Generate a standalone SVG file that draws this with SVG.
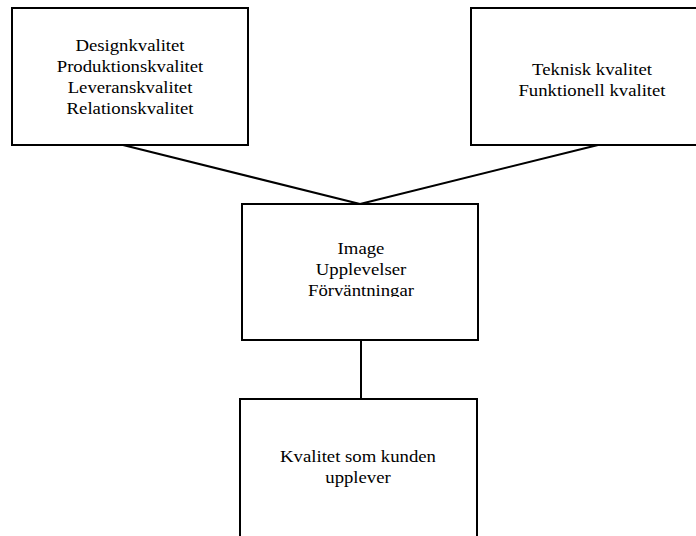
<svg xmlns="http://www.w3.org/2000/svg" width="696" height="536" viewBox="0 0 696 536">
  <style>
    .box { fill: #ffffff; stroke: #000000; stroke-width: 2; }
    .link { stroke: #000000; stroke-width: 2; fill: none; }
    text { font-family: "Liberation Serif", "Times New Roman", serif; font-size: 17.5px; fill: #000000; text-anchor: middle; }
  </style>
  <defs>
    <!-- the last line of the middle box is cut off just below its baseline -->
    <clipPath id="middle-clip">
      <rect x="242" y="204" width="236" height="93"/>
    </clipPath>
  </defs>
  <rect width="696" height="536" fill="#ffffff"/>

  <g id="connectors">
    <line class="link" x1="123" y1="145" x2="360" y2="204"/>
    <line class="link" x1="598" y1="145" x2="360" y2="204"/>
    <line class="link" x1="361" y1="340" x2="361" y2="399"/>
  </g>

  <!-- labels are set slightly wide: each text is scaled 1.07 horizontally about its anchor -->
  <g id="node-process-quality">
    <rect class="box" x="12" y="8" width="236" height="137"/>
    <text transform="translate(130 51) scale(1.07 1)">Designkvalitet</text>
    <text transform="translate(130 72) scale(1.07 1)">Produktionskvalitet</text>
    <text transform="translate(130 93) scale(1.07 1)">Leveranskvalitet</text>
    <text transform="translate(130 114) scale(1.07 1)">Relationskvalitet</text>
  </g>

  <g id="node-technical-quality">
    <rect class="box" x="471" y="8" width="232" height="137"/>
    <text transform="translate(592 75) scale(1.07 1)">Teknisk kvalitet</text>
    <text transform="translate(592 96) scale(1.07 1)">Funktionell kvalitet</text>
  </g>

  <g id="node-image">
    <rect class="box" x="242" y="204" width="236" height="136"/>
    <g clip-path="url(#middle-clip)">
      <text transform="translate(361 254) scale(1.07 1)">Image</text>
      <text transform="translate(361 275) scale(1.07 1)">Upplevelser</text>
      <text transform="translate(361 296) scale(1.07 1)">Förväntningar</text>
    </g>
  </g>

  <g id="node-perceived-quality">
    <rect class="box" x="240" y="399" width="237" height="145"/>
    <text transform="translate(358 462) scale(1.07 1)">Kvalitet som kunden</text>
    <text transform="translate(358 483) scale(1.07 1)">upplever</text>
  </g>
</svg>
